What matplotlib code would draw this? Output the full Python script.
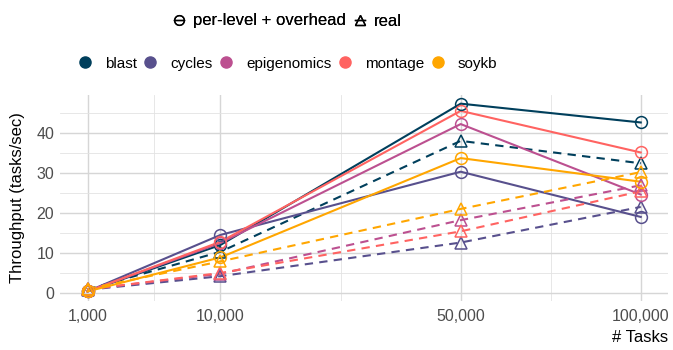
import numpy as np
import matplotlib.pyplot as plt
from matplotlib.lines import Line2D
from matplotlib.ticker import FixedLocator, FuncFormatter

plt.rcParams['font.family'] = ['Liberation Sans', 'DejaVu Sans']

tasks = [1000, 10000, 50000, 100000]
workflows = ['blast', 'cycles', 'epigenomics', 'montage', 'soykb']
colors = ['#003f5c', '#58508d', '#bc5090', '#ff6361', '#ffa600']

# per-level + overhead (circles, solid)
predicted = {
    'blast':       [0.4, 12.0, 47.3, 42.6],
    'cycles':      [0.4, 14.5, 30.3, 19.0],
    'epigenomics': [0.4, 12.5, 42.2, 24.6],
    'montage':     [0.4, 12.8, 45.5, 35.1],
    'soykb':       [0.4, 8.9, 33.7, 27.8],
}
# real (triangles, dashed)
real = {
    'blast':       [0.9, 10.3, 38.0, 32.4],
    'cycles':      [0.8, 4.2, 12.6, 21.5],
    'epigenomics': [0.9, 4.8, 18.2, 26.9],
    'montage':     [0.9, 5.0, 15.4, 25.4],
    'soykb':       [1.0, 7.9, 21.0, 30.2],
}

fig = plt.figure(figsize=(6.73, 3.5), dpi=100)
ax = fig.add_axes([0.089, 0.14, 0.904, 0.589])
ax.set_xscale('function', functions=(np.sqrt, np.square))

for wf, c in zip(workflows, colors):
    ax.plot(tasks, predicted[wf], color=c, lw=1.5, ls='-', zorder=3)
    ax.plot(tasks, real[wf], color=c, lw=1.5, ls=(0, (4, 3)), zorder=3)
for wf, c in zip(workflows, colors):
    ax.plot(tasks, predicted[wf], ls='none', marker='o', ms=8.5, mfc='none',
            mec=c, mew=1.1, zorder=4)
    ax.plot(tasks, real[wf], ls='none', marker='^', ms=9, mfc='none',
            mec=c, mew=1.1, zorder=4)

ax.set_xlim(17.4 ** 2, 330.4 ** 2)
ax.set_ylim(-2.0, 49.5)
ax.xaxis.set_major_locator(FixedLocator(tasks))
ax.xaxis.set_major_formatter(FuncFormatter(lambda v, p: f"{int(round(v)):,}"))
mids = [((np.sqrt(a) + np.sqrt(b)) / 2) ** 2 for a, b in zip(tasks[:-1], tasks[1:])]
ax.xaxis.set_minor_locator(FixedLocator(mids))
ax.yaxis.set_major_locator(FixedLocator([0, 10, 20, 30, 40]))
ax.yaxis.set_minor_locator(FixedLocator([5, 15, 25, 35, 45]))

ax.grid(which='major', color='#d6d6d6', lw=1.0)
ax.grid(which='minor', color='#e3e3e3', lw=0.6)
ax.set_axisbelow(True)
for s in ax.spines.values():
    s.set_visible(False)
ax.tick_params(which='both', length=0, labelsize=11.5, labelcolor='#4d4d4d')
ax.tick_params(axis='x', pad=6)
ax.tick_params(axis='y', pad=4)

ax.set_ylabel('Throughput (tasks/sec)', fontsize=12, color='black')
ax.yaxis.set_label_coords(-0.058, 0.5)
ax.set_xlabel('# Tasks', fontsize=12, color='black', loc='right', labelpad=4)

shape_handles = [
    Line2D([], [], color='black', lw=1.0, marker='o', ms=7, mfc='none', mew=1.0),
    Line2D([], [], color='black', lw=1.0, marker='^', ms=7.5, mfc='none', mew=1.0),
]
leg1 = fig.legend(shape_handles, ['per-level + overhead', 'real'], loc='center',
                  bbox_to_anchor=(0.428, 0.94), ncol=2, frameon=False,
                  fontsize=12, handlelength=0.6, handletextpad=0.5, columnspacing=0.6)
fig.add_artist(leg1)

color_handles = [Line2D([], [], ls='none', marker='o', ms=8, color=c) for c in colors]
fig.legend(color_handles, workflows, loc='center', bbox_to_anchor=(0.428, 0.818),
           ncol=5, frameon=False, fontsize=11, handlelength=0.8,
           handletextpad=0.9, columnspacing=0.5)

fig.savefig('out.png', dpi=100)
